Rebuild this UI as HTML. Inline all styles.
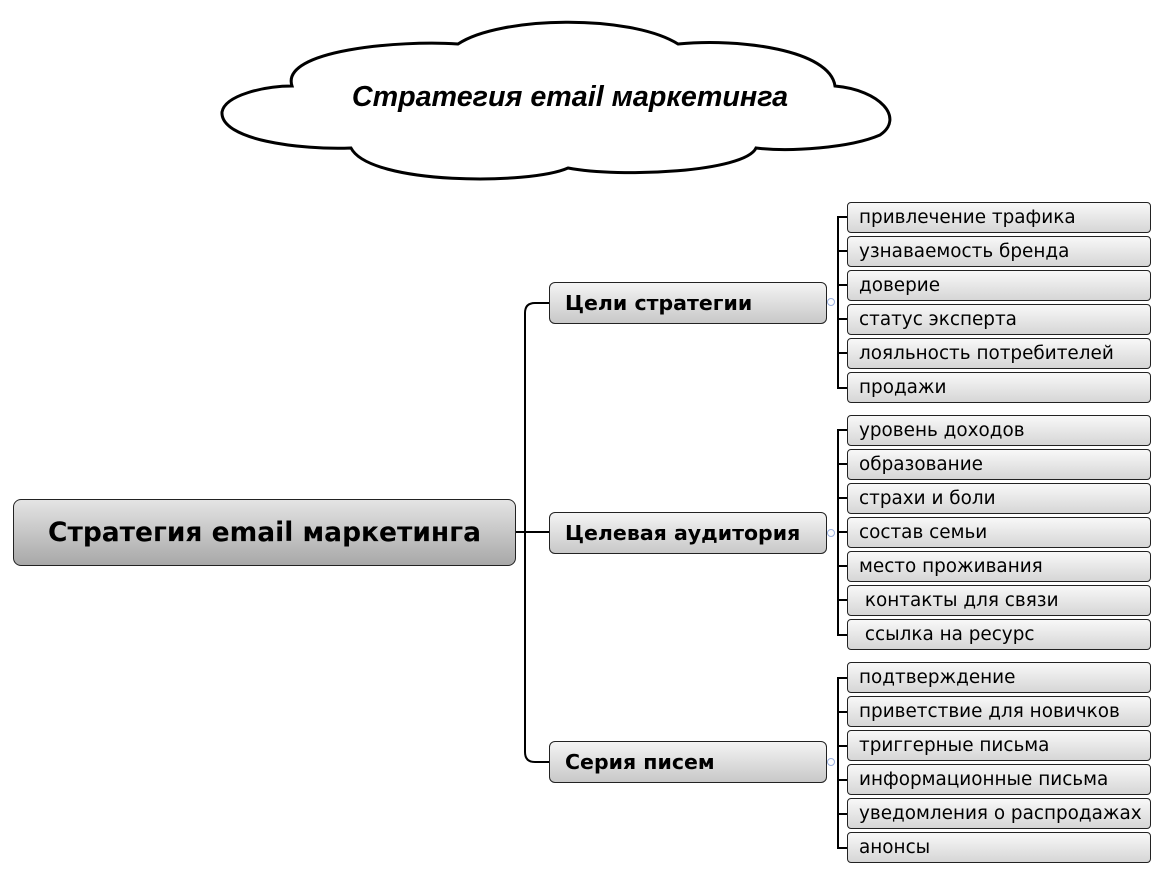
<!DOCTYPE html>
<html><head><meta charset="utf-8"><style>
html,body{margin:0;padding:0;background:#fff;}
body{width:1167px;height:874px;position:relative;overflow:hidden;font-family:"DejaVu Sans","Liberation Sans",sans-serif;}
.b{position:absolute;box-sizing:border-box;border:1px solid #222;background:linear-gradient(#f4f4f4,#c8c8c8);color:#000;white-space:nowrap;}
.leaf{left:847px;width:304px;height:31px;border-radius:4px;font-size:18.4px;line-height:29px;padding-left:11px;background:linear-gradient(#f8f8f8,#d6d6d6);}
.l1{left:549px;width:278px;height:42px;border-radius:6px;font-size:20.5px;font-weight:bold;line-height:40px;padding-left:15px;}
.root{left:13px;top:499px;width:503px;height:67px;border-radius:8px;font-size:26.5px;font-weight:bold;line-height:65px;text-align:center;background:linear-gradient(#e4e4e4,#a8a8a8);}
svg{position:absolute;left:0;top:0;}
</style></head><body>
<svg width="1167" height="874">
<path d="M458,44 C500,16 630,14 678,44 C740,38 830,50 835,86 C880,90 905,118 880,135 C850,148 790,152 756,148 C745,172 620,178 568,168 C530,185 370,185 351,148 C300,150 220,140 222,112 C225,95 265,86 292,86 C280,50 400,40 458,44 Z" fill="#fff" stroke="#000" stroke-width="3"/>
<text x="570" y="106" font-family="Liberation Sans, sans-serif" font-size="28.7" font-weight="bold" font-style="italic" text-anchor="middle">Стратегия email маркетинга</text>
<g fill="none" stroke="#000" stroke-width="2">
<path d="M549,303 H535 Q525,303 525,313 V752 Q525,762 535,762 H549"/>
<path d="M516,532 H549"/>
<path d="M847,217 H838 V388 H847 M838,251 H847 M838,285 H847 M838,319 H847 M838,353 H847"/>
<path d="M847,430 H838 V635 H847 M838,464 H847 M838,498 H847 M838,532 H847 M838,566 H847 M838,600 H847"/>
<path d="M847,678 H838 V848 H847 M838,712 H847 M838,746 H847 M838,780 H847 M838,814 H847"/>
</g>
<g fill="#fff" stroke="#9ab0e0" stroke-width="1">
<circle cx="831" cy="302" r="3.5"/><circle cx="831" cy="533" r="3.5"/><circle cx="831" cy="762" r="3.5"/>
</g>
</svg>
<div class="b root">Стратегия email маркетинга</div>
<div class="b l1" style="top:282px">Цели стратегии</div>
<div class="b l1" style="top:512px">Целевая аудитория</div>
<div class="b l1" style="top:741px">Серия писем</div>
<div class="b leaf" style="top:202px">привлечение трафика</div>
<div class="b leaf" style="top:236px">узнаваемость бренда</div>
<div class="b leaf" style="top:270px">доверие</div>
<div class="b leaf" style="top:304px">статус эксперта</div>
<div class="b leaf" style="top:338px">лояльность потребителей</div>
<div class="b leaf" style="top:372px">продажи</div>
<div class="b leaf" style="top:415px">уровень доходов</div>
<div class="b leaf" style="top:449px">образование</div>
<div class="b leaf" style="top:483px">страхи и боли</div>
<div class="b leaf" style="top:517px">состав семьи</div>
<div class="b leaf" style="top:551px">место проживания</div>
<div class="b leaf" style="top:585px">&nbsp;контакты для связи</div>
<div class="b leaf" style="top:619px">&nbsp;ссылка на ресурс</div>
<div class="b leaf" style="top:662px">подтверждение</div>
<div class="b leaf" style="top:696px">приветствие для новичков</div>
<div class="b leaf" style="top:730px">триггерные письма</div>
<div class="b leaf" style="top:764px">информационные письма</div>
<div class="b leaf" style="top:798px">уведомления о распродажах</div>
<div class="b leaf" style="top:832px">анонсы</div>
</body></html>
